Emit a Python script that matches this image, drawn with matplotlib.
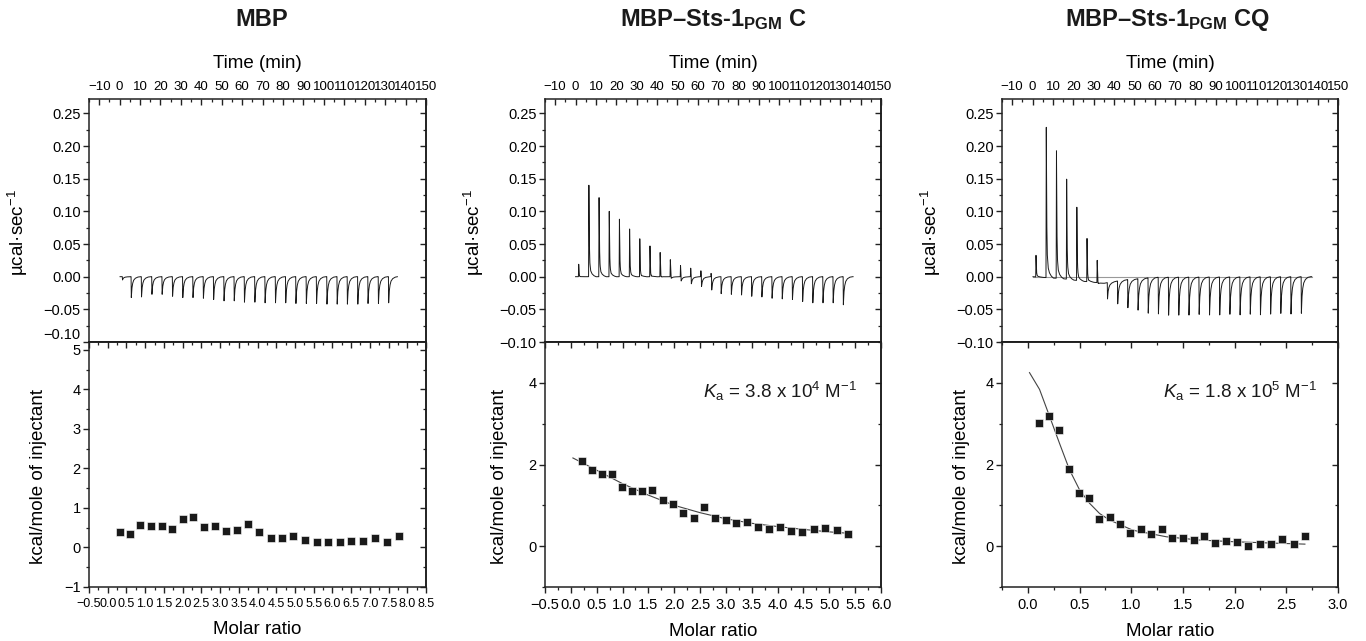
import numpy as np
import matplotlib
matplotlib.use("Agg")
import matplotlib.pyplot as plt
from matplotlib.ticker import MultipleLocator, FuncFormatter

plt.rcParams['font.family'] = ['Liberation Sans', 'DejaVu Sans']
plt.rcParams['mathtext.fontset'] = 'custom'
plt.rcParams['mathtext.rm'] = 'Liberation Sans'
plt.rcParams['mathtext.it'] = 'Liberation Sans:italic'
plt.rcParams['mathtext.bf'] = 'Liberation Sans:bold'

# ---- MBP ----
mbp_ratio = [0.32, 0.59, 0.87, 1.15, 1.44, 1.72, 2.00, 2.28, 2.58, 2.87, 3.16, 3.46, 3.75,
             4.05, 4.36, 4.66, 4.96, 5.27, 5.58, 5.89, 6.20, 6.51, 6.83, 7.14, 7.46, 7.79]
mbp_heat = [0.385, 0.34, 0.57, 0.55, 0.54, 0.475, 0.71, 0.76, 0.52, 0.55, 0.41, 0.43, 0.60,
            0.385, 0.25, 0.25, 0.29, 0.19, 0.15, 0.14, 0.14, 0.16, 0.16, 0.24, 0.13, 0.28]
mbp_inj_t = [1.3, 5.6, 10.6, 15.7, 20.7, 25.8, 30.8, 35.8, 40.9, 45.9, 51.0, 56.0, 61.0, 66.1,
             71.1, 76.2, 81.2, 86.2, 91.3, 96.3, 101.4, 106.4, 111.4, 116.5, 121.5, 126.6, 131.6]
mbp_pos = [0.0] * 27
mbp_neg = [-0.005, -0.032, -0.031, -0.027, -0.027, -0.030, -0.032, -0.032, -0.033, -0.035,
           -0.037, -0.037, -0.039, -0.039, -0.040, -0.040, -0.040, -0.041, -0.041, -0.041,
           -0.042, -0.042, -0.042, -0.042, -0.041, -0.041, -0.040]

# ---- MBP-Sts-1 PGM C ----
c_ratio = [0.222, 0.416, 0.609, 0.802, 0.996, 1.189, 1.383, 1.576, 1.776, 1.982, 2.176, 2.376,
           2.582, 2.788, 2.995, 3.20, 3.41, 3.63, 3.84, 4.05, 4.26, 4.48, 4.70, 4.92, 5.14, 5.36]
c_heat = [2.09, 1.87, 1.76, 1.77, 1.44, 1.34, 1.34, 1.37, 1.12, 1.04, 0.81, 0.70, 0.96,
          0.69, 0.64, 0.57, 0.59, 0.48, 0.42, 0.47, 0.37, 0.34, 0.41, 0.45, 0.39, 0.31]
c_fit_x = [0.04, 0.5, 1.0, 1.5, 2.0, 2.5, 3.0, 3.5, 4.0, 4.5, 5.0, 5.43]
c_fit_y = [2.16, 1.86, 1.53, 1.25, 1.00, 0.82, 0.67, 0.56, 0.48, 0.41, 0.35, 0.31]
c_inj_t = [1.4, 6.4, 11.4, 16.4, 21.4, 26.4, 31.4, 36.4, 41.4, 46.4, 51.4, 56.4, 61.4, 66.4,
           71.4, 76.4, 81.4, 86.4, 91.4, 96.4, 101.4, 106.4, 111.4, 116.4, 121.4, 126.4, 131.4]
c_pos = [0.019, 0.140, 0.121, 0.100, 0.088, 0.073, 0.058, 0.047, 0.037, 0.026, 0.017, 0.013,
         0.009, 0.005, 0, 0, 0, 0, 0, 0, 0, 0, 0, 0, 0, 0, 0]
c_neg = [-0.004, -0.005, -0.005, -0.006, -0.006, -0.007, -0.008, -0.008, -0.009, -0.010,
         -0.012, -0.015, -0.018, -0.022, -0.026, -0.027, -0.028, -0.030, -0.031, -0.033,
         -0.034, -0.035, -0.038, -0.040, -0.040, -0.040, -0.043]

# ---- MBP-Sts-1 PGM CQ ----
cq_ratio = [0.11, 0.206, 0.303, 0.397, 0.494, 0.590, 0.690, 0.790, 0.890, 0.990, 1.090, 1.194,
            1.294, 1.397, 1.50, 1.603, 1.706, 1.813, 1.919, 2.026, 2.132, 2.242, 2.348, 2.461,
            2.571, 2.681]
cq_heat = [3.02, 3.19, 2.84, 1.90, 1.31, 1.17, 0.66, 0.72, 0.55, 0.33, 0.41, 0.30, 0.43,
           0.21, 0.19, 0.16, 0.25, 0.08, 0.12, 0.09, 0.00, 0.05, 0.06, 0.18, 0.06, 0.25]
cq_fit_x = [0.016, 0.113, 0.21, 0.306, 0.403, 0.5, 0.597, 0.694, 0.79, 1.016, 1.34, 1.66,
            1.98, 2.31, 2.68]
cq_fit_y = [4.25, 3.84, 3.18, 2.52, 1.87, 1.38, 1.05, 0.80, 0.64, 0.39, 0.23, 0.15,
            0.11, 0.08, 0.05]
cq_inj_t = [1.55, 6.6, 11.6, 16.6, 21.6, 26.6, 31.6, 36.7, 41.7, 46.7, 51.7, 56.7, 61.7, 66.7,
            71.7, 76.7, 81.7, 86.8, 91.8, 96.8, 101.8, 106.8, 111.8, 116.8, 121.8, 126.8, 131.9]
cq_pos = [0.033, 0.230, 0.195, 0.153, 0.112, 0.066, 0.034, 0, 0, 0, 0, 0, 0, 0,
          0, 0, 0, 0, 0, 0, 0, 0, 0, 0, 0, 0, 0]
cq_neg = [-0.004, -0.006, -0.007, -0.008, -0.008, -0.008, -0.010, -0.025, -0.035, -0.043,
          -0.048, -0.054, -0.056, -0.058, -0.058, -0.058, -0.057, -0.058, -0.058, -0.057,
          -0.058, -0.057, -0.058, -0.057, -0.056, -0.057, -0.056]
cq_drift_t = [0, 15, 25, 35, 45, 60, 137]
cq_drift_v = [0.0, -0.003, -0.007, -0.010, -0.005, -0.001, 0.0]

titles = ['MBP', r'MBP–Sts-1$_{\mathbf{PGM}}$ C', r'MBP–Sts-1$_{\mathbf{PGM}}$ CQ']
ka_text = [None, r'$K$$_{\mathrm{a}}$ = 3.8 x 10$^{4}$ M$^{-1}$',
           r'$K$$_{\mathrm{a}}$ = 1.8 x 10$^{5}$ M$^{-1}$']

# peak shapes (time offset in min, fraction of height)
up_t = [0, 0.15, 0.35, 0.65, 1.0, 1.6, 2.5, 3.6]
up_f = [0, 1, 0.42, 0.17, 0.08, 0.04, 0.015, 0]
dn_t = [0, 0.12, 0.35, 0.7, 1.2, 2.0, 3.2, 4.5]
dn_f = [0, 1, 0.6, 0.35, 0.18, 0.08, 0.02, 0]


def thermogram(t, times, pos, neg):
    y = np.zeros_like(t)
    for t0, p, n in zip(times, pos, neg):
        y += p * np.interp(t - t0, up_t, up_f, left=0, right=0)
        y += n * np.interp(t - t0 - (0.35 if p > 0 else 0), dn_t, dn_f, left=0, right=0)
    return y


def fmt(spec):
    # tick labels with a real minus sign
    return FuncFormatter(lambda v, pos: (spec % v).replace('-', '\u2212'))


def style_ticks(a):
    a.tick_params(which='major', length=4, width=1, color='#222222')
    a.tick_params(which='minor', length=2.5, width=0.9, color='#222222')


W, H = 1366, 641
fig = plt.figure(figsize=(W / 100, H / 100), dpi=100)
ink = '#1a1a1a'
lefts = [89, 545, 1002]
widths = [337, 336, 336]
title_x = [262, 713, 1167]
fs_tick = 10.5
fs_dense = 9.5   # crowded tick rows
fs_lab = 13.5

panels = [
    dict(ratio=mbp_ratio, heat=mbp_heat, fit=None, inj=(mbp_inj_t, mbp_pos, mbp_neg),
         tr=(0.2, 136.0), xlim=(-0.5, 8.5), xmaj=0.5, ylim=(-1, 5.2), ymaj=1, ymin=0.5,
         ka_xy=None, ylab_b=-42, xfs=9.0),
    dict(ratio=c_ratio, heat=c_heat, fit=(c_fit_x, c_fit_y), inj=(c_inj_t, c_pos, c_neg),
         tr=(0.0, 136.3), xlim=(-0.5, 6.0), xmaj=0.5, ylim=(-1, 5), ymaj=2, ymin=1,
         ka_xy=(2.56, 3.8), ylab_b=-37, xfs=fs_tick),
    dict(ratio=cq_ratio, heat=cq_heat, fit=(cq_fit_x, cq_fit_y), inj=(cq_inj_t, cq_pos, cq_neg),
         tr=(0.2, 137.1), xlim=(-0.25, 3.0), xmaj=0.5, ylim=(-1, 5), ymaj=2, ymin=1,
         ka_xy=(1.31, 3.8), ylab_b=-32, xfs=fs_tick),
]

top_yticks = [-0.10, -0.05, 0.0, 0.05, 0.10, 0.15, 0.20, 0.25]

for i, pn in enumerate(panels):
    L, Wd = lefts[i], widths[i]
    ax_t = fig.add_axes([L / W, (H - 342) / H, Wd / W, (342 - 99) / H])
    ax_b = fig.add_axes([L / W, (H - 587) / H, Wd / W, (587 - 342) / H])

    # raw thermogram
    t = np.arange(pn['tr'][0], pn['tr'][1], 0.01)
    y = thermogram(t, *pn['inj'])
    if i == 2:
        y += np.interp(t, cq_drift_t, cq_drift_v)
        ax_t.plot([t[0], t[-1]], [0, 0], color='#999999', lw=0.8)
    ax_t.plot(t, y, color=ink, lw=0.7)
    ax_t.set_xlim(-15, 150)
    ax_t.set_ylim(-0.10, 0.272)
    ax_t.xaxis.set_major_locator(MultipleLocator(10))
    ax_t.xaxis.set_minor_locator(MultipleLocator(5))
    ax_t.xaxis.set_major_formatter(fmt('%d'))
    ax_t.set_yticks(top_yticks)
    ax_t.set_yticklabels([('%.2f' % v).replace('-', '\u2212') for v in top_yticks])
    ax_t.yaxis.set_minor_locator(MultipleLocator(0.025))
    ax_t.tick_params(axis='x', which='both', top=True, bottom=False, labeltop=True,
                     labelbottom=False, direction='in', labelsize=fs_dense, pad=4)
    ax_t.tick_params(axis='y', which='both', left=True, right=False, direction='out',
                     labelsize=fs_tick, pad=2)
    if i == 0:
        ax_t.get_yticklabels()[0].set_va('bottom')
    ax_t.xaxis.set_label_position('top')
    ax_t.set_xlabel('Time (min)', fontsize=fs_lab, labelpad=10)
    ax_t.set_ylabel('µcal·sec$^{-1}$', fontsize=fs_lab)
    ax_t.yaxis.set_label_coords(-59 / Wd, 0.45)
    sec = ax_t.secondary_yaxis('right')
    sec.set_yticks(top_yticks)
    sec.yaxis.set_minor_locator(MultipleLocator(0.025))
    sec.tick_params(which='both', direction='in', labelright=False)

    # integrated heats
    if pn['fit'] is not None:
        ax_b.plot(pn['fit'][0], pn['fit'][1], color='#444444', lw=0.8)
    ax_b.plot(pn['ratio'], pn['heat'], 's', color=ink, ms=6, mec='white', mew=0.4)
    ax_b.set_xlim(*pn['xlim'])
    ax_b.set_ylim(*pn['ylim'])
    ax_b.xaxis.set_major_locator(MultipleLocator(pn['xmaj']))
    ax_b.xaxis.set_minor_locator(MultipleLocator(pn['xmaj'] / 2))
    ax_b.xaxis.set_major_formatter(fmt('%.1f'))
    ax_b.yaxis.set_major_locator(MultipleLocator(pn['ymaj']))
    ax_b.yaxis.set_minor_locator(MultipleLocator(pn['ymin']))
    ax_b.yaxis.set_major_formatter(fmt('%d'))
    ax_b.tick_params(axis='x', which='both', top=False, bottom=True, direction='out',
                     labelsize=pn['xfs'], pad=4)
    ax_b.tick_params(axis='y', which='both', left=True, right=False, direction='out',
                     labelsize=fs_tick, pad=2)
    sec_b = ax_b.secondary_yaxis('right')
    sec_b.yaxis.set_major_locator(MultipleLocator(pn['ymaj']))
    sec_b.yaxis.set_minor_locator(MultipleLocator(pn['ymin']))
    sec_b.tick_params(which='both', direction='in', labelright=False)
    sec_x = ax_b.secondary_xaxis('top')
    sec_x.xaxis.set_major_locator(MultipleLocator(pn['xmaj']))
    sec_x.xaxis.set_minor_locator(MultipleLocator(pn['xmaj'] / 2))
    sec_x.tick_params(which='both', direction='in', labeltop=False)
    ax_b.set_xlabel('Molar ratio', fontsize=fs_lab, labelpad=8)
    ax_b.set_ylabel('kcal/mole of injectant', fontsize=fs_lab)
    ax_b.yaxis.set_label_coords(pn['ylab_b'] / Wd, 0.449)
    if pn['ka_xy'] is not None:
        ax_b.text(pn['ka_xy'][0], pn['ka_xy'][1], ka_text[i], fontsize=fs_lab,
                  ha='left', va='center', color=ink)

    for a in (ax_t, ax_b):
        for s in a.spines.values():
            s.set_linewidth(1.1)
            s.set_color('#222222')
        style_ticks(a)
    for s in (sec, sec_b, sec_x):
        style_ticks(s)
    sec.spines['right'].set_linewidth(1.1)
    sec_b.spines['right'].set_linewidth(1.1)
    sec_x.spines['top'].set_linewidth(1.1)

    fig.text(title_x[i] / W, 1 - 20 / H, titles[i], ha='center', va='center',
             fontsize=17, fontweight='bold', color=ink)

fig.savefig('out.png', dpi=100)
